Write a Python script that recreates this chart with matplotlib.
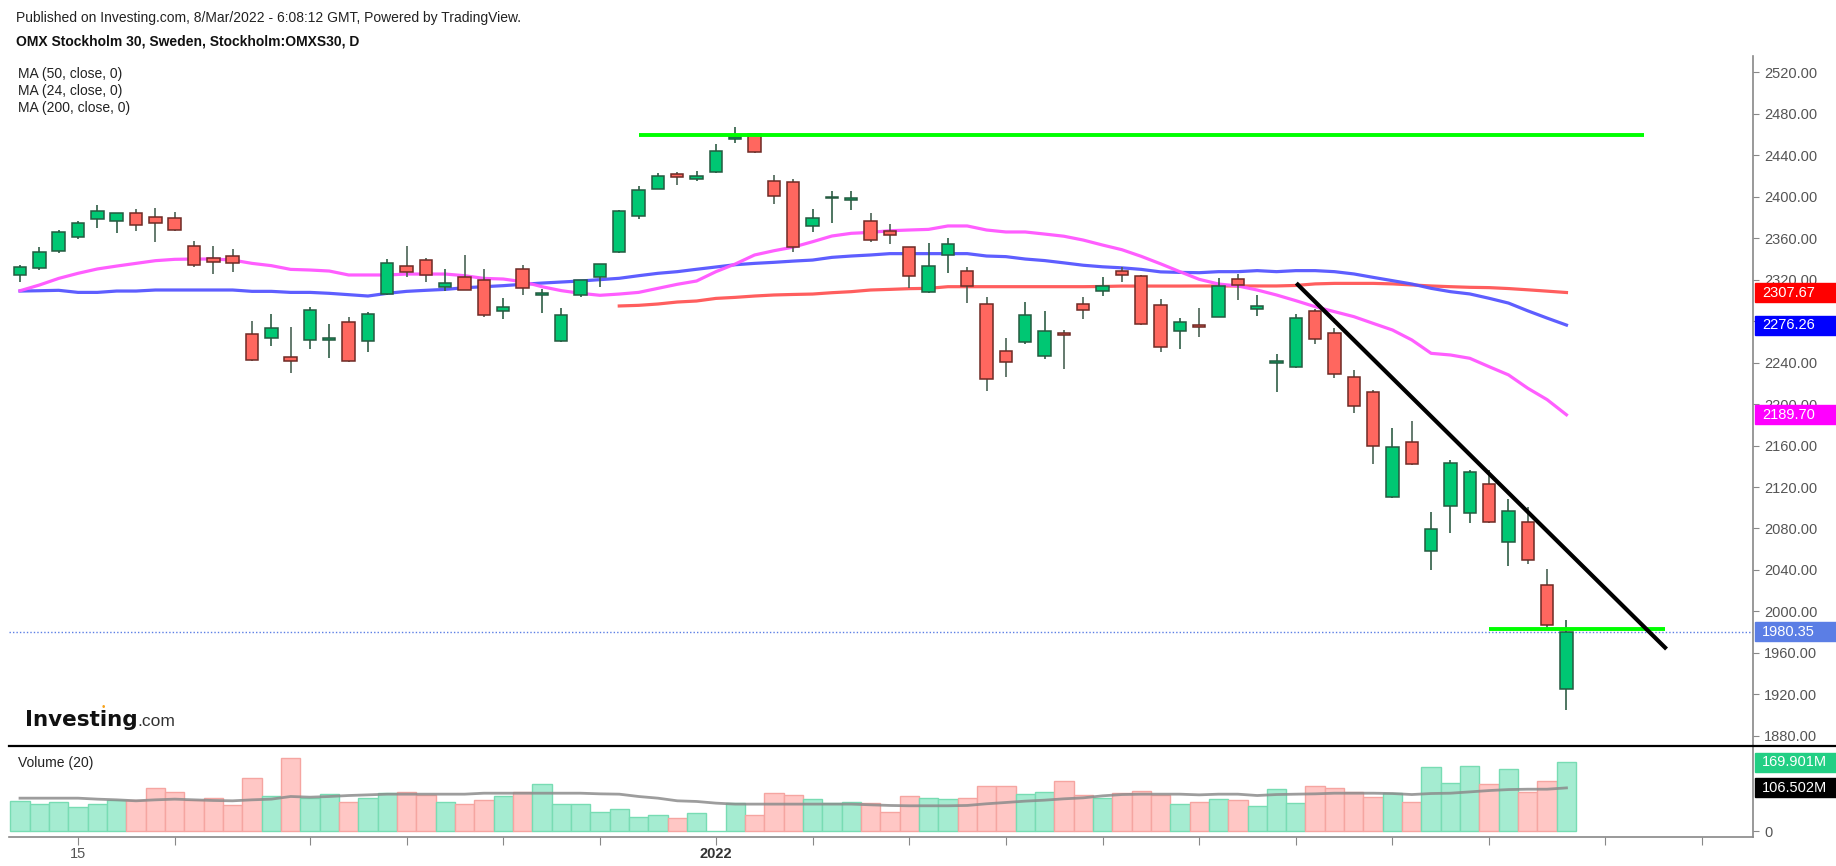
import numpy as np
import matplotlib
matplotlib.use("Agg")
import matplotlib.pyplot as plt
from matplotlib.patches import Rectangle
from matplotlib.lines import Line2D
from matplotlib.transforms import blended_transform_factory

plt.rcParams['font.family'] = ['Liberation Sans', 'DejaVu Sans']

W, H = 1836, 866

# daily OHLC, OMXS30, 10 Nov 2021 .. 7 Mar 2022
opens = [2324.9, 2331.0, 2347.7, 2360.9, 2378.9, 2376.7, 2384.1, 2380.2, 2379.3, 2352.5,
         2340.6, 2342.9, 2267.3, 2263.4, 2245.1, 2261.8, 2262.6, 2279.2, 2260.9, 2305.9,
         2333.6, 2339.4, 2312.7, 2322.3, 2320.1, 2289.8, 2330.7, 2305.6, 2260.9, 2305.3,
         2322.3, 2346.4, 2381.2, 2407.9, 2421.7, 2417.5, 2423.6, 2456.0, 2460.3, 2415.3,
         2414.0, 2371.9, 2399.0, 2397.5, 2376.7, 2367.0, 2351.3, 2307.8, 2343.9, 2328.4,
         2296.9, 2251.2, 2259.6, 2246.4, 2267.9, 2296.3, 2309.1, 2328.7, 2323.6, 2295.9,
         2270.5, 2275.7, 2284.4, 2321.1, 2292.1, 2240.6, 2236.1, 2290.2, 2268.3, 2226.5,
         2211.7, 2110.0, 2163.4, 2057.9, 2101.7, 2095.2, 2123.3, 2066.9, 2086.1, 2025.2,
         1924.7]
highs = [2334.2, 2351.9, 2368.0, 2376.7, 2391.8, 2384.1, 2387.9, 2388.9, 2385.7, 2357.7,
         2352.9, 2349.3, 2280.5, 2286.6, 2274.7, 2294.0, 2277.3, 2284.3, 2288.5, 2340.0,
         2352.9, 2340.7, 2330.0, 2343.5, 2330.0, 2302.0, 2333.9, 2310.7, 2292.4, 2319.7,
         2335.5, 2387.3, 2410.8, 2422.7, 2424.3, 2425.3, 2451.0, 2467.7, 2461.3, 2420.8,
         2416.9, 2387.9, 2405.9, 2405.9, 2384.1, 2373.8, 2351.8, 2355.1, 2359.9, 2332.0,
         2303.6, 2263.4, 2298.5, 2290.1, 2271.5, 2303.6, 2322.6, 2332.6, 2324.6, 2301.1,
         2282.8, 2292.4, 2321.4, 2325.2, 2305.0, 2248.0, 2286.6, 2291.5, 2273.8, 2232.9,
         2213.6, 2176.9, 2183.4, 2096.2, 2146.0, 2136.4, 2136.2, 2108.2, 2100.8, 2040.6,
         1992.0]
lows = [2318.1, 2329.4, 2346.1, 2359.0, 2370.2, 2365.4, 2367.4, 2356.7, 2367.5, 2332.6,
        2325.5, 2327.8, 2242.0, 2256.4, 2230.3, 2252.8, 2244.8, 2240.3, 2249.9, 2305.5,
        2322.3, 2318.1, 2309.5, 2310.0, 2284.4, 2281.8, 2305.3, 2288.2, 2259.6, 2303.7,
        2313.3, 2346.0, 2378.6, 2407.2, 2411.1, 2415.6, 2423.0, 2451.6, 2442.5, 2392.8,
        2347.1, 2366.4, 2375.1, 2387.3, 2356.7, 2354.5, 2311.7, 2307.3, 2326.8, 2297.9,
        2212.3, 2226.4, 2258.0, 2243.8, 2233.9, 2282.1, 2304.6, 2318.1, 2276.3, 2250.6,
        2253.2, 2264.4, 2284.0, 2300.1, 2285.3, 2212.0, 2235.1, 2257.7, 2225.5, 2191.7,
        2142.2, 2109.5, 2141.2, 2039.9, 2075.9, 2085.6, 2085.0, 2043.6, 2045.4, 1984.4,
        1904.4]
closes = [2332.0, 2346.4, 2366.1, 2374.4, 2386.3, 2384.1, 2373.1, 2374.4, 2368.0, 2334.2,
          2336.8, 2335.8, 2242.5, 2273.1, 2241.6, 2290.8, 2263.4, 2241.6, 2286.6, 2335.8,
          2327.1, 2324.9, 2316.5, 2310.4, 2286.0, 2293.4, 2311.7, 2306.2, 2286.3, 2319.5,
          2335.3, 2386.3, 2406.9, 2420.1, 2418.8, 2420.1, 2444.2, 2457.0, 2443.0, 2400.5,
          2351.9, 2379.3, 2399.8, 2398.2, 2358.3, 2363.5, 2323.6, 2333.2, 2354.8, 2313.6,
          2224.5, 2240.3, 2286.3, 2270.5, 2267.3, 2290.8, 2314.0, 2324.9, 2277.6, 2254.8,
          2278.9, 2275.1, 2314.0, 2314.9, 2294.7, 2241.2, 2282.8, 2263.1, 2229.0, 2198.2,
          2159.6, 2158.3, 2142.2, 2079.1, 2142.8, 2134.5, 2085.8, 2097.2, 2049.1, 1986.4,
          1980.35]

# volume in millions and its 20-day average
volumes = [74.8, 67.5, 72.4, 60.2, 67.5, 75.6, 75.6, 105.7, 96.7, 77.2,
           81.3, 63.4, 130.1, 85.4, 178.9, 81.3, 91.1, 72.4, 81.3, 93.5,
           96.7, 88.6, 72.4, 66.7, 75.6, 87.8, 96.7, 115.4, 66.7, 66.7,
           48.0, 54.5, 35.0, 39.0, 32.5, 44.7, 1.0, 69.1, 39.0, 93.5,
           88.6, 78.9, 69.1, 72.4, 69.1, 48.0, 85.4, 81.3, 78.9, 81.3,
           112.2, 112.2, 92.7, 95.9, 123.6, 90.2, 81.3, 93.5, 100.0, 89.4,
           66.7, 72.4, 78.9, 75.6, 62.6, 103.3, 69.1, 112.2, 105.7, 96.7,
           83.7, 93.5, 72.4, 158.5, 117.9, 160.9, 115.4, 152.0, 96.7, 123.6,
           169.9]
vol_ma = [81.3, 81.3, 81.3, 81.3, 78.9, 77.2, 74.8, 77.2, 78.9, 77.2,
          75.6, 74.8, 77.2, 78.9, 85.4, 83.7, 85.4, 87.8, 89.4, 91.1,
          91.1, 91.1, 91.1, 91.1, 93.5, 93.5, 93.5, 93.5, 93.5, 93.5,
          91.9, 91.1, 85.4, 81.3, 74.8, 73.2, 69.1, 66.7, 66.7, 66.7,
          66.7, 66.7, 66.7, 66.7, 65.0, 63.4, 62.6, 62.6, 62.6, 63.4,
          67.5, 70.7, 74.0, 76.4, 79.7, 82.1, 87.0, 90.2, 91.1, 91.1,
          91.1, 89.4, 91.1, 91.1, 87.8, 90.2, 91.1, 91.9, 93.5, 93.5,
          93.5, 92.7, 90.2, 92.7, 93.5, 96.7, 100.0, 102.4, 103.3, 103.3,
          106.502]

ma24 = [2309.4, 2314.9, 2321.3, 2326.2, 2330.4, 2333.2, 2335.8, 2338.4, 2339.7, 2340.0,
        2340.0, 2339.0, 2335.8, 2333.6, 2330.0, 2329.4, 2328.4, 2324.6, 2324.6, 2324.6,
        2325.5, 2325.5, 2325.5, 2323.9, 2321.3, 2320.7, 2318.1, 2313.3, 2309.5, 2306.9,
        2305.0, 2306.2, 2307.8, 2311.7, 2315.6, 2318.8, 2327.8, 2335.2, 2343.9, 2348.0,
        2351.5, 2356.7, 2362.2, 2364.8, 2365.7, 2367.3, 2368.0, 2368.6, 2371.9, 2371.9,
        2368.0, 2366.1, 2366.1, 2364.1, 2362.0, 2358.3, 2353.5, 2349.0, 2342.6, 2335.4,
        2327.8, 2320.4, 2315.9, 2314.0, 2310.1, 2305.3, 2299.8, 2294.0, 2289.2, 2284.4,
        2277.9, 2271.5, 2261.9, 2249.0, 2247.4, 2244.2, 2236.1, 2228.2, 2215.3, 2204.3,
        2189.70]
ma50 = [2309.1, 2309.4, 2309.8, 2307.8, 2307.8, 2309.1, 2309.1, 2310.1, 2310.1, 2310.1,
        2310.1, 2310.1, 2308.8, 2308.8, 2307.8, 2307.8, 2306.9, 2305.6, 2304.3, 2306.9,
        2308.8, 2309.8, 2310.7, 2312.3, 2313.3, 2314.3, 2315.6, 2316.8, 2317.8, 2318.8,
        2320.1, 2321.4, 2323.9, 2326.2, 2327.8, 2330.1, 2332.3, 2334.5, 2335.8, 2336.8,
        2338.0, 2339.0, 2341.6, 2342.9, 2343.9, 2345.2, 2345.2, 2345.2, 2345.2, 2345.2,
        2342.9, 2342.3, 2340.0, 2338.5, 2336.3, 2334.0, 2332.5, 2331.5, 2330.0, 2327.6,
        2327.1, 2326.8, 2327.8, 2327.8, 2328.8, 2327.8, 2328.8, 2328.8, 2327.8, 2325.6,
        2322.3, 2319.1, 2315.9, 2311.7, 2308.5, 2306.3, 2302.1, 2297.5, 2290.0, 2283.0,
        2276.26]
ma200 = [np.nan] * 31 + [
        2294.7, 2295.3, 2296.6, 2298.5, 2299.5, 2302.0, 2303.0, 2304.3, 2305.3,
        2305.8, 2306.2, 2307.5, 2308.5, 2310.1, 2310.7, 2311.4, 2311.7, 2313.3, 2313.3,
        2313.3, 2313.3, 2313.3, 2313.3, 2313.3, 2313.3, 2313.5, 2313.9, 2313.9, 2313.9,
        2313.9, 2314.0, 2314.0, 2314.0, 2314.0, 2314.0, 2314.5, 2316.0, 2316.5, 2316.5,
        2316.5, 2316.0, 2315.0, 2314.0, 2313.3, 2312.7, 2312.4, 2311.5, 2310.3, 2309.0,
        2307.67]

price_ticks = list(range(1880, 2521, 40))
week_ticks = [4, 9, 16, 21, 26, 31, 37, 42, 47, 52, 57, 62, 67, 72, 77, 83, 88]
week_labels = {4: '15', 37: '2022'}

# drawn lines (bar index, price)
resistance = ((33, 85), 2460.0)
support = ((77, 86.1), 1983.0)
trend = ((67.1, 86.1), (2315.3, 1965.1))
last_price = 1980.35

GREEN = '#00c773'
RED = '#ff675f'


def px_axes(fig, left, top, right, bottom):
    return fig.add_axes([left / W, 1 - bottom / H, (right - left) / W, (bottom - top) / H])


def tag(axis, y, text, color, h_px=19):
    trans = blended_transform_factory(axis.transAxes, axis.transData)
    y0, y1 = axis.get_ylim()
    h = h_px * (y1 - y0) / axis.bbox.height
    axis.add_patch(Rectangle((1.001, y - h / 2), 0.047, h, transform=trans,
                             color=color, clip_on=False, zorder=6))
    axis.text(1.0052, y, text, transform=trans, color='white', fontsize=10.5,
              va='center', ha='left', zorder=7, clip_on=False)


fig = plt.figure(figsize=(W / 100, H / 100), dpi=100)
ax = px_axes(fig, 9, 56, 1753, 746)
axv = px_axes(fig, 9, 746, 1753, 837)

x = np.arange(1, len(closes) + 1)
o = np.array(opens)
c = np.array(closes)
hi = np.array(highs)
lo = np.array(lows)
up = c >= o

# candles
body_h = np.maximum(np.abs(c - o), 1.8)
body_lo = (o + c) / 2 - body_h / 2
ax.vlines(x[up], lo[up], hi[up], color='#2f5e45', lw=1.2, zorder=3)
ax.vlines(x[~up], lo[~up], hi[~up], color='#4a6455', lw=1.2, zorder=3)
ax.bar(x[up], body_h[up], bottom=body_lo[up], width=0.64, color=GREEN,
       edgecolor='#245a40', lw=1.1, zorder=4)
ax.bar(x[~up], body_h[~up], bottom=body_lo[~up], width=0.64, color=RED,
       edgecolor='#6e2a25', lw=1.1, zorder=4)

# moving averages
ax.plot(x, ma200, color='#ff5555', lw=2.3, alpha=0.95, zorder=2)
ax.plot(x, ma50, color='#5555ff', lw=2.3, alpha=0.95, zorder=2)
ax.plot(x, ma24, color='#ff55ff', lw=2.3, alpha=0.95, zorder=2)

# drawings
ax.plot(resistance[0], [resistance[1]] * 2, color='#00ff00', lw=2.8, zorder=5,
        solid_capstyle='butt')
ax.plot(support[0], [support[1]] * 2, color='#00ff00', lw=2.8, zorder=5,
        solid_capstyle='butt')
ax.plot(trend[0], trend[1], color='black', lw=3, zorder=5)
ax.axhline(last_price, color='#5b7ee5', lw=1, ls=(0, (1, 1.5)), zorder=1)

ax.set_xlim(0.43, 90.65)
ax.set_ylim(1870.1, 2535.9)
ax.set_xticks([])
ax.yaxis.tick_right()
ax.set_yticks(price_ticks)
ax.set_yticklabels([f'{v:.2f}' for v in price_ticks])
ax.tick_params(axis='y', length=4, color='#888888', labelcolor='#555555',
               labelsize=10.5, pad=4)
for s in ['top', 'left', 'bottom']:
    ax.spines[s].set_visible(False)
ax.spines['right'].set_color('#888888')
ax.spines['right'].set_linewidth(1.2)

tag(ax, ma200[-1], '2307.67', '#ff0000')
tag(ax, ma50[-1], '2276.26', '#0000ff')
tag(ax, ma24[-1], '2189.70', '#ff00ff')
tag(ax, last_price, '1980.35', '#5b7ee5')

# volume panel
vol_face = np.where(up, '#a5ecd1', '#ffc7c5')
vol_edge = np.where(up, '#78dcb3', '#f5a5a1')
axv.bar(x, volumes, width=1.0, color=vol_face, edgecolor=vol_edge, lw=1, zorder=2)
axv.plot(x, vol_ma, color='#8c8c8c', lw=2, alpha=0.85, zorder=3)
axv.set_xlim(0.43, 90.65)
axv.set_ylim(-14, 209.3)
axv.yaxis.tick_right()
axv.set_yticks([0])
axv.set_yticklabels(['0'])
axv.tick_params(axis='y', length=4, color='#888888', labelcolor='#555555',
                labelsize=10.5, pad=4)
axv.set_xticks(week_ticks)
axv.set_xticklabels([week_labels.get(t, '') for t in week_ticks])
axv.tick_params(axis='x', length=6, color='#888888', labelcolor='#555555',
                labelsize=10.5, pad=1)
for lab in axv.get_xticklabels():
    if lab.get_text() == '2022':
        lab.set_fontweight('bold')
        lab.set_color('#333333')
for s in ['top', 'left']:
    axv.spines[s].set_visible(False)
for s in ['right', 'bottom']:
    axv.spines[s].set_color('#888888')
    axv.spines[s].set_linewidth(1.2)

tag(axv, volumes[-1], '169.901M', '#22cf84')
tag(axv, vol_ma[-1], '106.502M', '#000000')

fig.add_artist(Line2D([9 / W, 1], [1 - 746 / H] * 2, color='black', lw=1.6))

# texts
fig.text(16 / W, 1 - 18 / H, 'Published on Investing.com, 8/Mar/2022 - 6:08:12 GMT, Powered by TradingView.',
         fontsize=10, va='center', color='#222222')
fig.text(16 / W, 1 - 41 / H, 'OMX Stockholm 30, Sweden, Stockholm:OMXS30, D',
         fontsize=10, fontweight='bold', va='center', color='#111111')
for i, t in enumerate(['MA (50, close, 0)', 'MA (24, close, 0)', 'MA (200, close, 0)']):
    fig.text(18 / W, 1 - (74 + 17 * i) / H, t, fontsize=10, va='center', color='#222222')
fig.text(18 / W, 1 - 763 / H, 'Volume (20)', fontsize=10, va='center', color='#222222')

logo = fig.text(25 / W, 1 - 726 / H, 'Investing', fontsize=15.5, fontweight='bold',
                family='DejaVu Sans', va='baseline', color='#111111')
fig.canvas.draw()
lx = logo.get_window_extent().x1
fig.text(lx / W, 1 - 726 / H, '.com', fontsize=12.5, va='baseline', color='#333333')
fig.text(103 / W, 1 - 707 / H, '\u2022', fontsize=7, color='#f7a21b', ha='center', va='center')

fig.savefig('out.png', dpi=100)
